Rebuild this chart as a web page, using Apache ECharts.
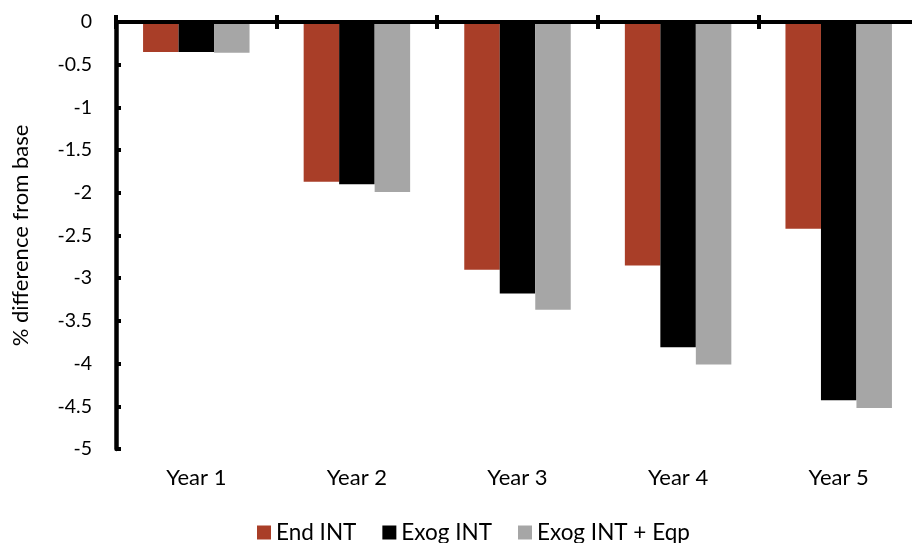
<!DOCTYPE html>
<html>
<head>
<meta charset="utf-8">
<script src="https://cdn.jsdelivr.net/npm/echarts@6/dist/echarts.min.js"></script>
<style>
  html, body { margin: 0; padding: 0; background: #fff; }
  #chart { width: 912px; height: 543px; }
</style>
</head>
<body>
<div id="chart"></div>
<script>
// Categories and series values (% difference from base)
const years = ['Year 1', 'Year 2', 'Year 3', 'Year 4', 'Year 5'];
const endInt = [-0.35, -1.87, -2.90, -2.85, -2.42];
const exogInt = [-0.35, -1.90, -3.18, -3.81, -4.43];
const exogIntEqp = [-0.36, -1.99, -3.37, -4.01, -4.52];
const seriesNames = ['End INT', 'Exog INT', 'Exog INT + Eqp'];
const seriesColors = ['#A93E28', '#000000', '#A6A6A6'];

const FONT = 'Lato';
const chart = echarts.init(document.getElementById('chart'), null, { renderer: 'canvas' });

const bar = (name, data, color) => ({
  name, type: 'bar', data,
  xAxisIndex: 0, yAxisIndex: 0,
  barGap: '0%', barCategoryGap: '33.7%',
  itemStyle: { color },
  z: 2
});

const axisStroke = { color: '#000', width: 4 };

chart.setOption({
  animation: false,
  textStyle: { fontFamily: FONT },
  grid: { left: 116, top: 22, right: -7, bottom: 94, outerBoundsMode: 'none', containLabel: false },
  legend: {
    left: 252, top: 516,
    itemWidth: 14, itemHeight: 14, itemGap: 26,
    icon: 'rect',
    textStyle: { fontFamily: FONT, fontSize: 22.5, color: '#000' },
    data: seriesNames
  },
  xAxis: [
    {
      // category labels under the plot
      type: 'category', data: years, position: 'bottom',
      axisLine: { show: false, onZero: false },
      axisTick: { show: false },
      axisLabel: { show: true, margin: 18, fontFamily: FONT, fontSize: 22, color: '#000' }
    },
    {
      // axis line along zero with upward ticks between categories
      type: 'category', data: years, position: 'top',
      axisLine: { show: true, onZero: false, lineStyle: axisStroke },
      axisTick: { show: true, inside: false, length: 7, lineStyle: axisStroke },
      axisLabel: { show: false },
      z: 5
    },
    {
      // downward half of the crossing ticks
      type: 'category', data: years, position: 'bottom',
      axisLine: { show: true, onZero: true, lineStyle: axisStroke },
      axisTick: { show: true, inside: false, length: 7, lineStyle: axisStroke },
      axisLabel: { show: false },
      z: 5
    }
  ],
  yAxis: {
    type: 'value', min: -5, max: 0, interval: 0.5,
    name: '% difference from base',
    nameLocation: 'middle', nameGap: 84, nameRotate: 90,
    nameTextStyle: { fontFamily: FONT, fontSize: 22, color: '#000' },
    axisLine: { show: true, onZero: false, lineStyle: { color: '#000', width: 4.5 } },
    axisTick: { show: true, inside: true, length: 5, lineStyle: axisStroke },
    axisLabel: { margin: 24, fontFamily: FONT, fontSize: 19.5, color: '#000' },
    splitLine: { show: false },
    z: 5
  },
  series: [
    bar(seriesNames[0], endInt, seriesColors[0]),
    bar(seriesNames[1], exogInt, seriesColors[1]),
    bar(seriesNames[2], exogIntEqp, seriesColors[2])
  ]
});
</script>
</body>
</html>
